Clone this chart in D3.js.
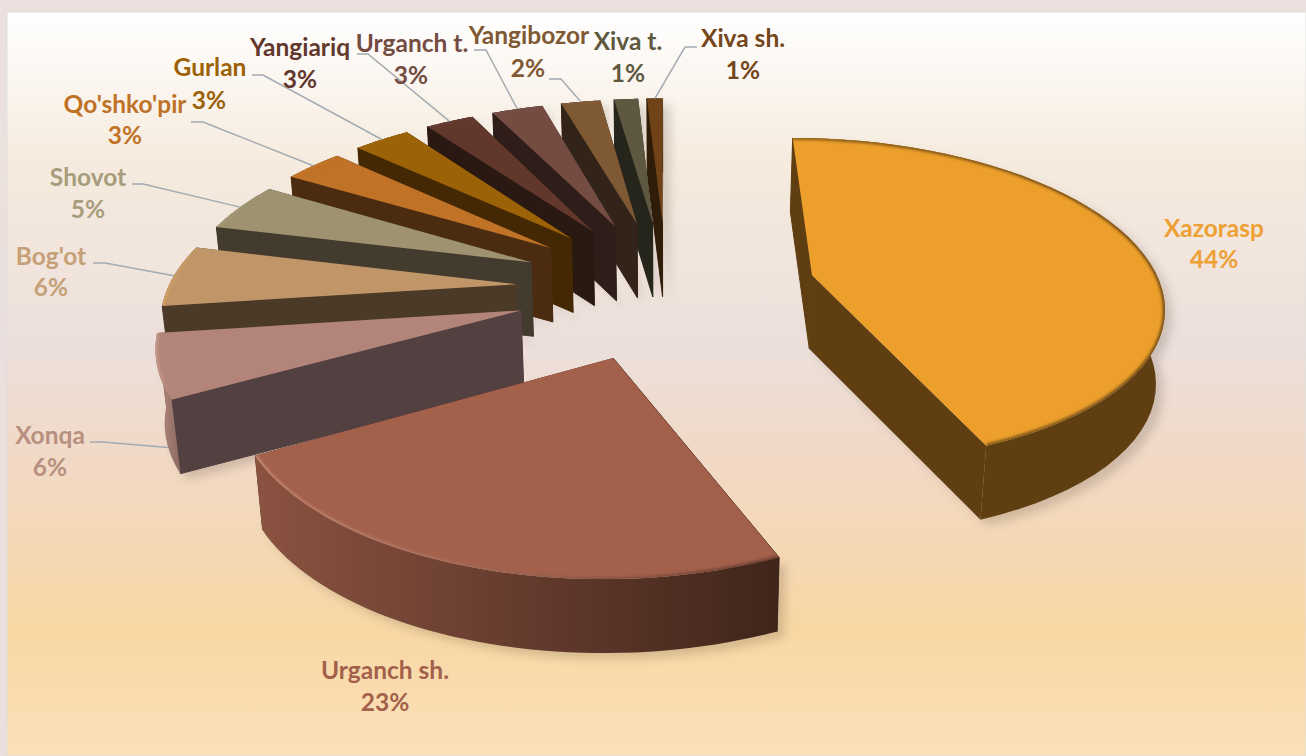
<!DOCTYPE html>
<html><head><meta charset="utf-8">
<script src="https://cdn.jsdelivr.net/npm/d3@7"></script>
<style>html,body{margin:0;padding:0;background:#ebe0dd;overflow:hidden}svg{display:block}text{font-family:Lato,"Open Sans",sans-serif;font-weight:700}</style>
</head><body><svg id="c" width="1306" height="756"></svg>
<script>
const categories=["Xazorasp","Urganch sh.","Xonqa","Bog'ot","Shovot","Qo'shko'pir","Gurlan","Yangiariq","Urganch t.","Yangibozor","Xiva t.","Xiva sh."];
const percents=[43.9,23,6,5.9,4.75,3.3,3.15,2.7,2.85,2.2,1.35,0.9];
const topColors=["#ec9f2b","#a3604b","#b3857a","#c09669","#9e9270","#c07227","#9c6207","#62382c","#744c42","#7f5933","#5f5840","#6f4317"];
const cutColors=["#5f3e12","#40251b","#534040","#4c3a28","#433b2e","#4c2c10","#432803","#2a1812","#2e1d18","#33241a","#26251b","#2f1c09"];
const rimLeft=["#5f3e12","#8a5240","#a87f75","#4c3a28","#433b2e","#4c2c10","#432803","#2a1812","#2e1d18","#33241a","#26251b","#2f1c09"];
const rimRight=["#5f3e12","#40251b","#8a6a60","#4c3a28","#433b2e","#4c2c10","#432803","#2a1812","#2e1d18","#33241a","#26251b","#2f1c09"];
const bevelLeft=["#7d5314","#cf917c","#cfa093","#dca35c","#a89c7a","#c97a2c","#a26808","#68403a","#7a5248","#855f38","#655e46","#754a1c"];
const bevelRight=["#5f3e12","#5f3527","#b3857a","#c09669","#9e9270","#c07227","#9c6207","#62382c","#744c42","#7f5933","#5f5840","#6f4317"];
const labelColors=["#eea034","#a3604b","#b8907f","#c6a077","#a79c7c","#c07227","#9c6207","#62382c","#744c42","#7f5933","#5f5840","#74461a"];

/* layout of labels: [name x, name y, pct x, pct y], leader elbows, small edge tweak in degrees */
const labelPos=[[1214,237,1214,268],[385,679,385,711],[50,444,50,476],[51,265,51,296],[88,186,88,218],[125,113,125,144],[210,76,209,109],[300,56,300,88],[412,52,411,84],[529,44,528,77],[628,50,628,82],[743,47,743,79]];
const leaderElbow=[null,null,[[90,442],[103,442]],[[93,263],[105,263]],[[132,184],[143,184]],[[191,122],[203,122]],[[252,75],[263,75]],[[357,54],[368,54]],[[474,50],[486,50]],[[549,79],[561,79]],null,[[697,47],[685,47]]];
const leaderFrac=[0,0,.4,.5,.5,.5,.5,.5,.5,.5,0,.5];
const startTweakDeg=[0,-1.6,0,0,0,0,0,0,0,0,0,0];

/* perspective projection of the pie plane */
const P={cx:666.5,cy:288,fx:349,fy:162,k:.155,pinch:.018,h:74,explode:.43,rot:0};
function project(X,Y,Z){const w=1+P.k*Y;return [P.cx+P.fx*X/w*(1-P.pinch*Z),P.cy-P.fy*Y/w+P.h*Z];}

const svg=d3.select("#c");
const defs=svg.append("defs");
const bg=defs.append("linearGradient").attr("id","bg").attr("x1",0).attr("x2",0).attr("y1",0).attr("y2",1);
[[0,"#ffffff"],[.2,"#f6ebde"],[.45,"#ecdfdb"],[.6,"#f1d9c6"],[.83,"#f8d7a4"],[1,"#fbe0b9"]].forEach(s=>bg.append("stop").attr("offset",s[0]).attr("stop-color",s[1]));
defs.append("filter").attr("id","blur5").attr("x","-20%").attr("y","-20%").attr("width","140%").attr("height","140%").append("feGaussianBlur").attr("stdDeviation",5);
defs.append("filter").attr("id","blur2").attr("x","-20%").attr("y","-20%").attr("width","140%").attr("height","140%").append("feGaussianBlur").attr("stdDeviation",1.8);

svg.append("rect").attr("width",1306).attr("height",756).attr("fill","#ebe0dd");
svg.append("rect").attr("x",7).attr("y",12).attr("width",1299).attr("height",744).attr("fill","url(#bg)").attr("stroke","#dfe0dc").attr("stroke-width",1);

const rows=categories.map((c,i)=>({name:c,value:percents[i],i}));
const arcs=d3.pie().sort(null).value(d=>d.value).startAngle(P.rot).endAngle(P.rot+2*Math.PI)(rows);
const line=d3.line();
const STEPS=48;
const geo=arcs.map(a=>{
  const mid=(a.startAngle+a.endAngle)/2;
  const ox=P.explode*Math.sin(mid),oy=P.explode*Math.cos(mid);
  const a0=a.startAngle+startTweakDeg[a.data.i]*Math.PI/180;
  const angles=d3.range(STEPS+1).map(t=>a0+(a.endAngle-a0)*t/STEPS);
  const rimAt=z=>angles.map(t=>project(ox+Math.sin(t),oy+Math.cos(t),z));
  return {a,apexT:project(ox,oy,0),apexB:project(ox,oy,1),rimT:rimAt(0),rimB:rimAt(1),i:a.data.i};
});
/* far slices first, nearest last */
const paintOrder=geo.slice(1).reverse().concat([geo[0]]);

const shadow=svg.append("g").attr("filter","url(#blur5)").attr("opacity",.2).attr("transform","translate(7,6)");
geo.forEach(g=>{
  shadow.append("path").attr("fill","#4a3a2a").attr("d",line([g.apexB,...g.rimB])+"Z");
  shadow.append("path").attr("fill","#4a3a2a").attr("d",line([...g.rimT,...g.rimB.slice().reverse()])+"Z");
});

function hGrad(id,xs,c0,c1){
  const lg=defs.append("linearGradient").attr("id",id).attr("gradientUnits","userSpaceOnUse").attr("x1",d3.min(xs)).attr("x2",d3.max(xs)).attr("y1",0).attr("y2",0);
  lg.append("stop").attr("offset",0).attr("stop-color",c0);
  lg.append("stop").attr("offset",1).attr("stop-color",c1);
  return `url(#${id})`;
}
const layer=svg.append("g");
paintOrder.forEach(g=>{
  const i=g.i;
  const cut=(r)=>line([g.apexT,r[0],r[1],g.apexB])+"Z";
  layer.append("path").attr("d",cut([g.rimT[STEPS],g.rimB[STEPS]])).attr("fill",cutColors[i]);
  layer.append("path").attr("d",cut([g.rimT[0],g.rimB[0]])).attr("fill",cutColors[i]).attr("stroke",cutColors[i]).attr("stroke-width",1).attr("stroke-linejoin","round");
  layer.append("path").attr("d",line([...g.rimT,...g.rimB.slice().reverse()])+"Z")
    .attr("fill",hGrad("rim"+i,g.rimB.map(p=>p[0]),rimLeft[i],rimRight[i]));
  const topD=line([g.apexT,...g.rimT])+"Z";
  layer.append("path").attr("d",topD).attr("fill",topColors[i]);
  defs.append("clipPath").attr("id","clip"+i).append("path").attr("d",topD);
  layer.append("g").attr("clip-path",`url(#clip${i})`).append("path")
    .attr("d",line(g.rimT)).attr("fill","none").attr("stroke-width",3.5).attr("filter","url(#blur2)")
    .attr("stroke",hGrad("bev"+i,g.rimT.map(p=>p[0]),bevelLeft[i],bevelRight[i]));
});

/* leaders */
const leaders=svg.append("g").attr("fill","none").attr("stroke","#a3abb2").attr("stroke-width",1.5);
geo.forEach(g=>{
  const el=leaderElbow[g.i]; if(!el) return;
  const ring=g.i===2?g.rimB:g.rimT;
  leaders.append("path").attr("d",line([...el,ring[Math.round(STEPS*leaderFrac[g.i])]]));
});

/* labels */
const labels=svg.append("g").attr("text-anchor","middle").attr("font-size",24.5);
rows.forEach((r,i)=>{
  const p=labelPos[i];
  labels.append("text").attr("x",p[0]).attr("y",p[1]).attr("fill",labelColors[i]).text(r.name);
  labels.append("text").attr("x",p[2]).attr("y",p[3]).attr("fill",labelColors[i]).text(Math.round(r.value)+"%");
});
</script></body></html>
